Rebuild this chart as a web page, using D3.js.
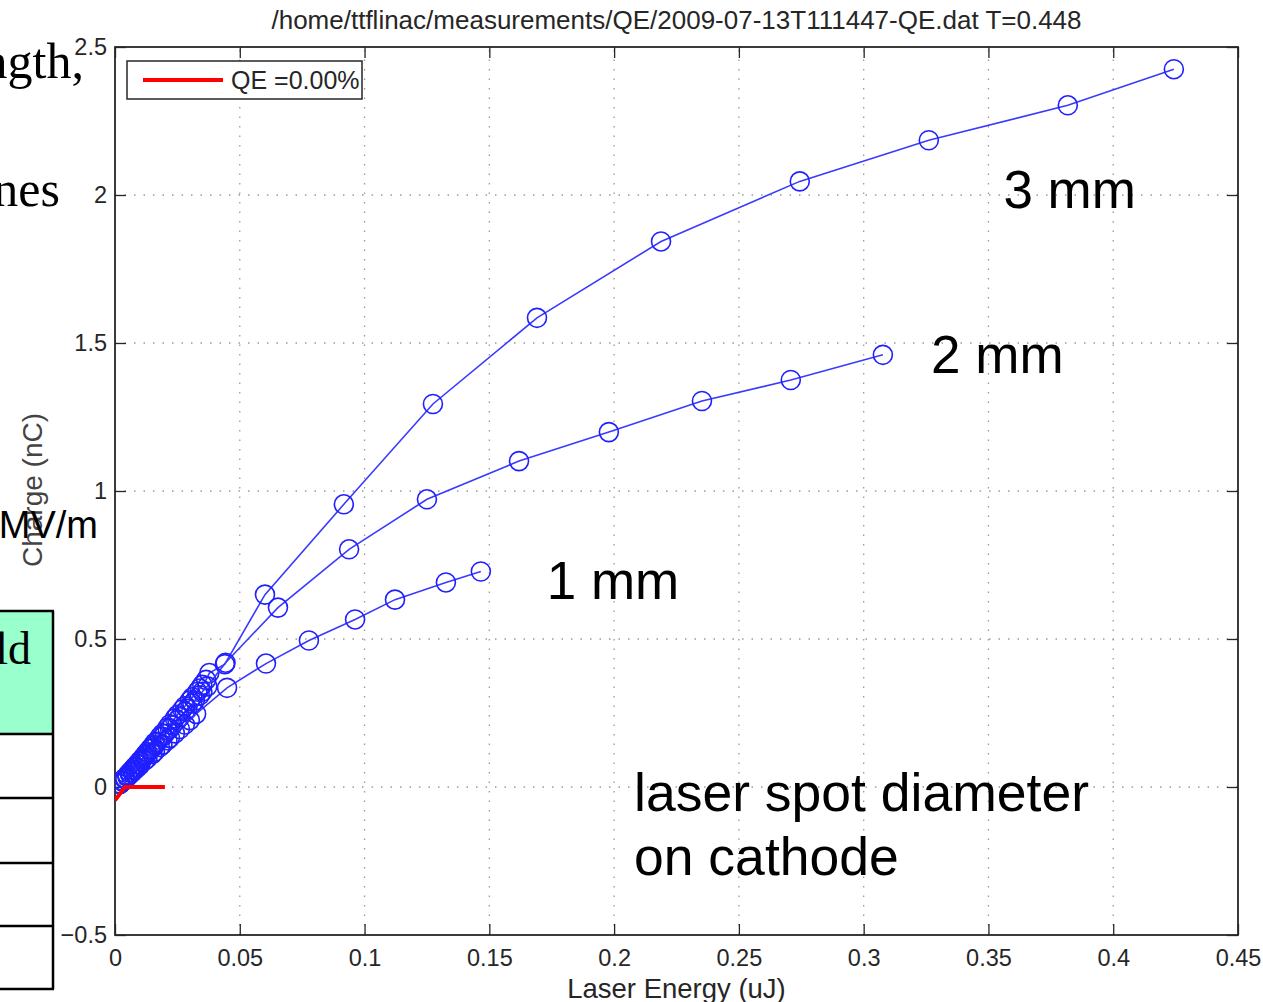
<!DOCTYPE html>
<html>
<head>
  <meta charset="UTF-8" />
  <title>QE scan 2009-07-13</title>
  <script src="https://cdn.jsdelivr.net/npm/d3@7"></script>
  <style>
    body { margin: 0; background: #fff; }
    svg { display: block; font-family: 'Liberation Sans', Arial, sans-serif; }
  </style>
</head>
<body>
  <svg id="chart" width="1263" height="1002"></svg>
  <script>
    // data (low energy cluster is estimated)
    const xTicks = [0, 0.05, 0.1, 0.15, 0.2, 0.25, 0.3, 0.35, 0.4, 0.45];
    const yTicks = [-0.5, 0, 0.5, 1, 1.5, 2, 2.5];

    const energy3mm = [0.002, 0.003, 0.004, 0.005, 0.006, 0.007, 0.008, 0.009, 0.010, 0.011, 0.012, 0.013, 0.014, 0.015, 0.016, 0.018, 0.019, 0.021, 0.022, 0.024, 0.025, 0.027, 0.028, 0.030, 0.031, 0.033, 0.034, 0.035, 0.0365, 0.0378, 0.0440, 0.0601, 0.0917, 0.1274, 0.1691, 0.2188, 0.2744, 0.3261, 0.3818, 0.4243];
    const charge3mm = [0.012, 0.022, 0.030, 0.040, 0.050, 0.058, 0.068, 0.078, 0.088, 0.097, 0.108, 0.118, 0.128, 0.138, 0.150, 0.170, 0.180, 0.200, 0.212, 0.232, 0.243, 0.262, 0.273, 0.292, 0.303, 0.322, 0.333, 0.345, 0.362, 0.385, 0.415, 0.650, 0.955, 1.294, 1.585, 1.843, 2.046, 2.185, 2.303, 2.425];

    const energy2mm = [0.002, 0.003, 0.004, 0.005, 0.006, 0.007, 0.008, 0.009, 0.010, 0.011, 0.012, 0.013, 0.015, 0.016, 0.017, 0.019, 0.020, 0.022, 0.023, 0.025, 0.026, 0.028, 0.029, 0.031, 0.032, 0.034, 0.035, 0.037, 0.0443, 0.0653, 0.0938, 0.1250, 0.1619, 0.1979, 0.2352, 0.2708, 0.3077];
    const charge2mm = [0.010, 0.020, 0.030, 0.040, 0.048, 0.058, 0.066, 0.076, 0.085, 0.094, 0.104, 0.113, 0.132, 0.142, 0.152, 0.170, 0.180, 0.198, 0.208, 0.226, 0.236, 0.254, 0.264, 0.282, 0.292, 0.310, 0.322, 0.340, 0.420, 0.606, 0.803, 0.972, 1.101, 1.199, 1.304, 1.375, 1.460];

    const energy1mm = [0.002, 0.003, 0.004, 0.005, 0.006, 0.007, 0.008, 0.009, 0.010, 0.012, 0.013, 0.015, 0.016, 0.018, 0.019, 0.021, 0.022, 0.024, 0.026, 0.028, 0.030, 0.0325, 0.0449, 0.0605, 0.0777, 0.0962, 0.1122, 0.1326, 0.1466];
    const charge1mm = [0.010, 0.018, 0.026, 0.034, 0.042, 0.050, 0.058, 0.066, 0.074, 0.090, 0.097, 0.112, 0.120, 0.135, 0.143, 0.158, 0.166, 0.181, 0.196, 0.211, 0.226, 0.247, 0.335, 0.417, 0.495, 0.566, 0.633, 0.691, 0.728];

    const fitEnergy = [0, 0.004, 0.02];
    const fitCharge = [-0.045, 0, 0];

    const series = [
      { label: '3 mm', x: energy3mm, y: charge3mm, tx: 0.356, ty: 1.955 },
      { label: '2 mm', x: energy2mm, y: charge2mm, tx: 0.327, ty: 1.40 },
      { label: '1 mm', x: energy1mm, y: charge1mm, tx: 0.173, ty: 0.635 }
    ];

    const svg = d3.select('#chart');
    const plotLeft = 115, plotRight = 1238, plotTop = 47, plotBottom = 935;

    let x = d3.scaleLinear().domain([0, 0.45]).range([plotLeft, plotRight]);
    let y = d3.scaleLinear().domain([-0.5, 2.5]).range([plotBottom, plotTop]);

    // slide fragments behind the figure
    const slide = svg.append('g').attr('font-family', "'Liberation Serif', 'Times New Roman', serif");
    slide.append('text').attr('x', 84).attr('y', 78).attr('text-anchor', 'end')
      .attr('font-size', 50).text('ngth,');
    slide.append('text').attr('x', 60).attr('y', 206).attr('text-anchor', 'end')
      .attr('font-size', 50).text('nes');

    const rows = [611, 734, 798, 863, 926, 989];
    slide.append('rect').attr('x', -10).attr('y', rows[0]).attr('width', 63).attr('height', rows[1] - rows[0])
      .attr('fill', '#99ffcc');
    slide.selectAll('line.row').data(rows).enter().append('line')
      .attr('x1', -10).attr('x2', 54).attr('y1', d => d).attr('y2', d => d)
      .attr('stroke', '#000').attr('stroke-width', 2.5);
    slide.append('line').attr('x1', 53).attr('x2', 53).attr('y1', rows[0]).attr('y2', rows[5])
      .attr('stroke', '#000').attr('stroke-width', 2.5);
    slide.append('text').attr('x', 31).attr('y', 664).attr('text-anchor', 'end')
      .attr('font-size', 46).text('ld');

    // grid
    const grid = svg.append('g').attr('stroke', '#9a9a9a').attr('stroke-width', 1.3)
      .attr('stroke-dasharray', '1.5,8');
    grid.selectAll('line.gx').data(xTicks.slice(1, -1)).enter().append('line')
      .attr('x1', d => x(d)).attr('x2', d => x(d)).attr('y1', plotBottom).attr('y2', plotTop);
    grid.selectAll('line.gy').data(yTicks.slice(1, -1)).enter().append('line')
      .attr('y1', d => y(d)).attr('y2', d => y(d)).attr('x1', plotLeft).attr('x2', plotRight);

    // axes
    const tickColor = '#262626';
    const fmt = d => d < 0 ? '\u2212' + Math.abs(d) : String(d);

    const xAxis = svg.append('g').attr('transform', 'translate(0,' + plotBottom + ')')
      .call(d3.axisBottom(x).tickValues(xTicks).tickFormat(fmt).tickSizeInner(-11).tickSizeOuter(0).tickPadding(14));
    const yAxis = svg.append('g').attr('transform', 'translate(' + plotLeft + ',0)')
      .call(d3.axisLeft(y).tickValues(yTicks).tickFormat(fmt).tickSizeInner(-11).tickSizeOuter(0).tickPadding(8));
    const xTop = svg.append('g').attr('transform', 'translate(0,' + plotTop + ')')
      .call(d3.axisTop(x).tickValues(xTicks).tickFormat('').tickSizeInner(-11).tickSizeOuter(0));
    const yRight = svg.append('g').attr('transform', 'translate(' + plotRight + ',0)')
      .call(d3.axisRight(y).tickValues(yTicks).tickFormat('').tickSizeInner(-11).tickSizeOuter(0));

    [xAxis, yAxis, xTop, yRight].forEach(g => {
      g.select('.domain').remove();
      g.selectAll('line').attr('stroke', tickColor).attr('stroke-width', 1.3);
      g.selectAll('text').attr('fill', tickColor).attr('font-size', 23.5)
        .attr('font-family', "'Liberation Sans', Arial, sans-serif");
    });

    svg.append('rect').attr('x', plotLeft).attr('y', plotTop).attr('width', plotRight - plotLeft).attr('height', plotBottom - plotTop)
      .attr('fill', 'none').attr('stroke', tickColor).attr('stroke-width', 1.8);

    // clip for plotted data
    svg.append('clipPath').attr('id', 'plotclip').append('rect')
      .attr('x', plotLeft).attr('y', plotTop).attr('width', plotRight - plotLeft).attr('height', plotBottom - plotTop);
    const plot = svg.append('g').attr('clip-path', 'url(#plotclip)');

    const line = d3.line().x(d => x(d[0])).y(d => y(d[1]));

    series.forEach(s => {
      const pts = s.x.map((v, i) => [v, s.y[i]]);
      plot.append('path').datum(pts).attr('d', line)
        .attr('fill', 'none').attr('stroke', '#3a3aff').attr('stroke-width', 1.6);
      plot.append('g').selectAll('circle').data(pts).enter().append('circle')
        .attr('cx', d => x(d[0])).attr('cy', d => y(d[1])).attr('r', 9.5)
        .attr('fill', 'none').attr('stroke', '#1f1fff').attr('stroke-width', 1.6);
    });

    plot.append('path').datum(fitEnergy.map((v, i) => [v, fitCharge[i]])).attr('d', line)
      .attr('fill', 'none').attr('stroke', '#ff0000').attr('stroke-width', 4);

    // legend
    const legend = svg.append('g');
    legend.append('rect').attr('x', 127).attr('y', 61).attr('width', 235).attr('height', 38)
      .attr('fill', '#fff').attr('stroke', tickColor).attr('stroke-width', 1.5);
    legend.append('line').attr('x1', 143).attr('x2', 223).attr('y1', 80).attr('y2', 80)
      .attr('stroke', '#ff0000').attr('stroke-width', 4);
    legend.append('text').attr('x', 231).attr('y', 89).attr('font-size', 25).attr('fill', tickColor)
      .text('QE =0.00%');

    // titles
    svg.append('text').attr('x', (plotLeft + plotRight) / 2).attr('y', 29).attr('text-anchor', 'middle')
      .attr('font-size', 26).attr('fill', tickColor)
      .text('/home/ttflinac/measurements/QE/2009-07-13T111447-QE.dat T=0.448');
    svg.append('text').attr('x', (plotLeft + plotRight) / 2).attr('y', 998).attr('text-anchor', 'middle')
      .attr('font-size', 27.5).attr('fill', tickColor).text('Laser Energy (uJ)');
    svg.append('text').attr('transform', 'translate(42,490) rotate(-90)').attr('text-anchor', 'middle')
      .attr('font-size', 28).attr('fill', '#444').text('Charge (nC)');

    // annotations
    const notes = svg.append('g').attr('fill', '#000').attr('font-size', 53);
    series.forEach(s => {
      notes.append('text').attr('x', x(s.tx)).attr('y', y(s.ty)).text(s.label);
    });
    notes.append('text').attr('x', 634).attr('y', 811).attr('font-size', 53.5).text('laser spot diameter');
    notes.append('text').attr('x', 634).attr('y', 875).attr('font-size', 53.5).text('on cathode');

    svg.append('text').attr('x', 98).attr('y', 538).attr('text-anchor', 'end')
      .attr('font-size', 38).attr('fill', '#000').text('MV/m');
  </script>
</body>
</html>
